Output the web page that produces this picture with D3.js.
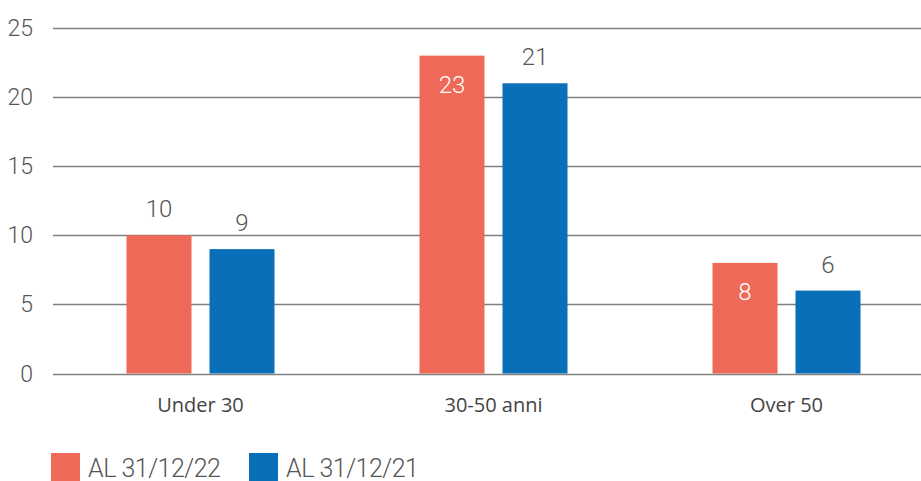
<!DOCTYPE html>
<html>
<head>
<meta charset="utf-8">
<script src="https://cdn.jsdelivr.net/npm/d3@7"></script>
<style>
  body { margin: 0; background: #fff; }
  svg { display: block; }
</style>
</head>
<body>
<svg id="chart"></svg>
<script>
// data
var categories = ["Under 30", "30-50 anni", "Over 50"];
var seriesNames = ["AL 31/12/22", "AL 31/12/21"];
var values2022 = [10, 23, 8];
var values2021 = [9, 21, 6];
var yTicks = [0, 5, 10, 15, 20, 25];
// which value labels sit inside the bar (white) in the original
var inside2022 = [false, true, true];
var inside2021 = [false, false, false];

var colors = ["#ee6958", "#0a6fb9"];

var W = 921, H = 481;
var svg = d3.select("#chart").attr("width", W).attr("height", H);

var y = d3.scaleLinear().domain([0, 25]).range([373.5, 28]);
var x0 = d3.scaleBand().domain(categories).range([54, 933]);
var x1 = d3.scaleBand().domain(seriesNames).range([-74, 74]).paddingInner(18 / 83);

// gridlines
svg.append("g")
  .selectAll("line")
  .data(yTicks)
  .enter()
  .append("line")
  .attr("x1", 53)
  .attr("x2", W)
  .attr("y1", function (d) { return Math.round(y(d)) + 0.5; })
  .attr("y2", function (d) { return Math.round(y(d)) + 0.5; })
  .attr("stroke", "#7f7f7f")
  .attr("stroke-width", 1.5);

// y tick labels
svg.append("g")
  .selectAll("text")
  .data(yTicks)
  .enter()
  .append("text")
  .attr("x", 33)
  .attr("y", function (d) { return y(d) + 8; })
  .attr("text-anchor", "end")
  .attr("font-family", "Roboto")
  .attr("font-weight", 300)
  .attr("font-size", 23)
  .attr("fill", "#555")
  .text(function (d) { return d; });

// bars
var rows = [];
categories.forEach(function (c, i) {
  rows.push({ cat: c, s: seriesNames[0], v: values2022[i], inside: inside2022[i], k: 0 });
  rows.push({ cat: c, s: seriesNames[1], v: values2021[i], inside: inside2021[i], k: 1 });
});

function barX(d) { return x0(d.cat) + x0.bandwidth() / 2 + x1(d.s); }

svg.append("g")
  .selectAll("rect")
  .data(rows)
  .enter()
  .append("rect")
  .attr("x", barX)
  .attr("y", function (d) { return y(d.v); })
  .attr("width", x1.bandwidth())
  .attr("height", function (d) { return y(0) - y(d.v); })
  .attr("fill", function (d) { return colors[d.k]; });

// value labels
svg.append("g")
  .selectAll("text")
  .data(rows)
  .enter()
  .append("text")
  .attr("x", function (d) { return barX(d) + x1.bandwidth() / 2; })
  .attr("y", function (d) { return d.inside ? y(d.v) + 37 : y(d.v) - 18; })
  .attr("text-anchor", "middle")
  .attr("font-family", "Roboto")
  .attr("font-weight", 300)
  .attr("font-size", 24)
  .attr("fill", function (d) { return d.inside ? "#fff" : "#555"; })
  .text(function (d) { return d.v; });

// category labels
svg.append("g")
  .selectAll("text")
  .data(categories)
  .enter()
  .append("text")
  .attr("x", function (d) { return x0(d) + x0.bandwidth() / 2; })
  .attr("y", 412)
  .attr("text-anchor", "middle")
  .attr("font-family", "Open Sans")
  .attr("font-size", 20)
  .attr("fill", "#444")
  .text(function (d) { return d; });

// legend
var legendX = [51, 249];
var legend = svg.append("g")
  .selectAll("g")
  .data(seriesNames)
  .enter()
  .append("g")
  .attr("transform", function (d, i) { return "translate(" + legendX[i] + ",453)"; });

legend.append("rect")
  .attr("width", 29)
  .attr("height", 28)
  .attr("fill", function (d, i) { return colors[i]; });

legend.append("text")
  .attr("x", 37)
  .attr("y", 24)
  .attr("font-family", "Roboto")
  .attr("font-weight", 300)
  .attr("font-size", 25)
  .attr("letter-spacing", -0.5)
  .attr("fill", "#555")
  .text(function (d) { return d; });
</script>
</body>
</html>
